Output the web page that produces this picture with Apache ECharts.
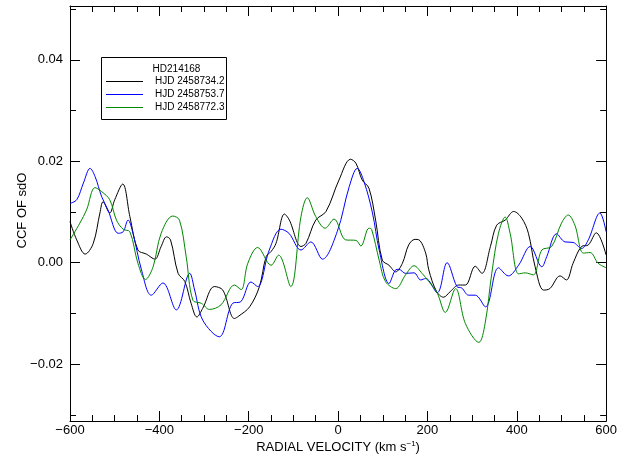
<!DOCTYPE html>
<html>
<head>
<meta charset="utf-8">
<script src="https://cdn.jsdelivr.net/npm/echarts@6/dist/echarts.min.js"></script>
<style>html,body{margin:0;padding:0;background:#fff;}#c{width:620px;height:460px;}</style>
</head>
<body>
<div id="c"></div>
<script>
// ---- data ----
const seriesNames = ['HJD 2458734.2', 'HJD 2458753.7', 'HJD 2458772.3'];
const legendTitle = 'HD214168';

const velBlack = [-600,-585,-566,-548,-533,-526,-511,-500,-482,-466,-448,-429,-410,-396,-384,-375,-358,-343,-329,-316,-303,-277,-258,-232,-222,-198,-176,-161,-150,-139,-120,-109,-83,-72,-50,-27,2,28,40,54,69,84,99,114,129,144,158,172,181,196,203,220,236,251,270,285,307,322,341,355,374,393,411,426,441,460,474,497,511,526,545,560,578,600];
const ccfBlack = [0.0081,0.0045,0.0017,0.0038,0.0098,0.0120,0.0098,0.0124,0.0155,0.0091,0.0025,0.0017,0.0007,0.0032,0.0051,0.0045,-0.0021,-0.0037,-0.0080,-0.0107,-0.0090,-0.0047,-0.0054,-0.0110,-0.0105,-0.0087,-0.0047,0.0012,0.0022,0.0038,0.0096,0.0084,0.0032,0.0038,0.0084,0.0101,0.0163,0.0204,0.0196,0.0163,0.0147,0.0084,0.0005,-0.0005,-0.0018,-0.0001,0.0035,0.0046,0.0045,0.0019,-0.0014,-0.0056,-0.0068,-0.0057,-0.0044,-0.0044,-0.0007,-0.0021,0.0032,0.0074,0.0084,0.0101,0.0088,0.0058,-0.0008,-0.0054,-0.0051,-0.0026,-0.0034,-0.0001,0.0032,0.0035,0.0059,0.0015];

const velBlue = [-600,-585,-570,-555,-544,-529,-515,-492,-481,-470,-459,-440,-418,-392,-362,-332,-321,-303,-266,-236,-218,-195,-180,-154,-128,-110,-83,-61,-35,-2,25,43,58,77,92,114,129,136,151,170,185,196,222,244,266,277,292,307,330,359,381,404,430,456,467,489,508,526,545,560,586,600];
const ccfBlue = [0.0117,0.0124,0.0157,0.0186,0.0170,0.0130,0.0104,0.0058,0.0061,0.0084,0.0058,-0.0014,-0.0064,-0.0040,-0.0093,-0.0021,-0.0054,-0.0113,-0.0146,-0.0080,-0.0077,-0.0038,-0.0047,0.0025,0.0066,0.0058,0.0025,0.0041,0.0007,0.0061,0.0150,0.0186,0.0160,0.0098,0.0025,-0.0041,-0.0014,-0.0013,-0.0021,-0.0020,-0.0034,-0.0031,-0.0059,0.0000,-0.0047,-0.0050,-0.0064,-0.0064,-0.0087,-0.0010,-0.0026,-0.0005,0.0032,-0.0008,0.0012,0.0057,0.0041,0.0040,0.0028,0.0045,0.0098,0.0061];

const velGreen = [-600,-578,-563,-544,-529,-511,-496,-481,-466,-448,-431,-414,-396,-370,-355,-340,-325,-306,-288,-262,-232,-217,-202,-180,-150,-133,-106,-83,-69,-50,-29,-9,17,40,51,69,75,92,106,129,151,170,188,203,222,240,263,285,315,329,344,359,374,385,404,419,437,456,478,500,515,530,549,564,582,600];
const ccfGreen = [0.0045,0.0078,0.0104,0.0148,0.0140,0.0124,0.0084,0.0066,0.0061,-0.0001,-0.0033,-0.0008,0.0058,0.0092,0.0084,0.0012,-0.0074,-0.0080,-0.0092,-0.0083,-0.0044,-0.0053,-0.0001,0.0030,-0.0005,0.0015,-0.0047,0.0091,0.0128,0.0091,0.0068,0.0086,0.0045,0.0044,0.0033,0.0068,0.0066,0.0005,-0.0037,-0.0051,-0.0024,-0.0006,-0.0021,-0.0037,-0.0060,-0.0098,-0.0051,-0.0120,-0.0157,-0.0120,-0.0021,0.0058,0.0090,0.0058,-0.0022,-0.0020,-0.0024,0.0025,0.0032,0.0078,0.0094,0.0074,0.0019,0.0020,-0.0001,-0.0010];

const xTicks = [-600, -400, -200, 0, 200, 400, 600];
const yMajorTicks = [-0.02, 0, 0.02, 0.04];
const yMinorTicks = [-0.03, -0.01, 0.01, 0.03, 0.05];
// -------------------------------------

const FONT = "'Liberation Sans', Arial, Helvetica, sans-serif";
const colors = ['#000000', '#0000ff', '#008800'];
const zip = (a, b) => a.map((v, i) => [v, b[i]]);
const minus = s => String(s).replace('-', '\u2212');
const yMin = -0.0312, yMax = 0.0506;

function yAxisDef(pos, ticks, len, showLine, withLabel) {
  const ax = {
    type: 'value', position: pos, min: yMin, max: yMax,
    splitLine: { show: false },
    axisLine: { show: showLine, onZero: false, lineStyle: { color: '#000', width: 1 } },
    axisTick: { show: true, inside: true, length: len, customValues: ticks, lineStyle: { color: '#000', width: 1 } },
    axisLabel: { show: withLabel, customValues: ticks, margin: 7, fontSize: 13, fontFamily: FONT, color: '#000',
      formatter: v => minus((Math.round(v * 100) / 100).toFixed(2)) }
  };
  if (withLabel) {
    ax.name = 'CCF OF sdO';
    ax.nameLocation = 'middle';
    ax.nameGap = 41;
    ax.nameMoveOverlap = false;
    ax.nameTextStyle = { fontSize: 13, fontFamily: FONT, color: '#000', padding: [0, 0, 0, 6] };
  }
  return ax;
}

function xAxisDef(pos, withLabel) {
  const ax = {
    type: 'value', position: pos, min: -600, max: 600, interval: 200,
    splitLine: { show: false },
    axisLine: { show: true, onZero: false, lineStyle: { color: '#000', width: 1 } },
    axisTick: { show: true, inside: true, length: 10, lineStyle: { color: '#000', width: 1 } },
    minorTick: { show: true, splitNumber: 4, length: 6, lineStyle: { color: '#000', width: 1 } },
    minorSplitLine: { show: false },
    axisLabel: { show: withLabel, margin: 3, fontSize: 13, fontFamily: FONT, color: '#000',
      formatter: v => minus(v) }
  };
  if (withLabel) {
    ax.name = 'RADIAL VELOCITY (km s{sup|\u22121})';
    ax.nameLocation = 'middle';
    ax.nameGap = 19;
    ax.nameMoveOverlap = false;
    ax.nameTextStyle = { fontSize: 13, fontFamily: FONT, color: '#000',
      rich: { sup: { fontSize: 8, fontFamily: FONT, color: '#000', verticalAlign: 'top', padding: [0, 0, 6, 0] } } };
  }
  return ax;
}

const chart = echarts.init(document.getElementById('c'), null, { renderer: 'canvas' });
chart.setOption({
  animation: false,
  backgroundColor: '#fff',
  grid: { left: 70, right: 12, top: 6, bottom: 39, containLabel: false },
  xAxis: [xAxisDef('bottom', true), xAxisDef('top', false)],
  yAxis: [
    yAxisDef('left', yMajorTicks, 10, true, true),
    yAxisDef('left', yMinorTicks, 6, false, false),
    yAxisDef('right', yMajorTicks, 10, true, false),
    yAxisDef('right', yMinorTicks, 6, false, false)
  ],
  legend: {
    orient: 'vertical', left: 106, top: 75, padding: 0,
    itemWidth: 37, itemHeight: 1, itemGap: 0, icon: 'rect',
    selectedMode: false,
    textStyle: { fontSize: 10, fontFamily: FONT, color: '#000', lineHeight: 13, padding: [0, 0, 0, 7] },
    data: seriesNames
  },
  graphic: [
    { type: 'rect', shape: { x: 101.5, y: 57.5, width: 125, height: 62 },
      style: { fill: 'none', stroke: '#000', lineWidth: 1 }, silent: true, z: 10 },
    { type: 'text', x: 176.5, y: 69, style: { text: legendTitle, fontSize: 10, fontFamily: FONT, fill: '#000',
      textAlign: 'center', textVerticalAlign: 'middle' }, z: 10 }
  ],
  series: [
    { name: seriesNames[0], data: zip(velBlack, ccfBlack), color: colors[0] },
    { name: seriesNames[1], data: zip(velBlue, ccfBlue), color: colors[1] },
    { name: seriesNames[2], data: zip(velGreen, ccfGreen), color: colors[2] }
  ].map(s => Object.assign({
    type: 'line', xAxisIndex: 0, yAxisIndex: 0, showSymbol: false, symbol: 'none',
    smooth: 0.35, lineStyle: { width: 1 }, itemStyle: { color: s.color }
  }, s))
});
</script>
</body>
</html>
